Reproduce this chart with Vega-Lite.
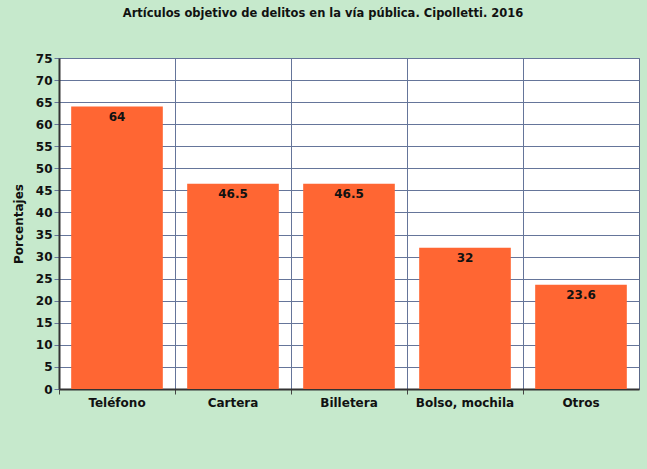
{
  "$schema": "https://vega.github.io/schema/vega-lite/v6.json",
  "autosize": "none",
  "width": 580,
  "height": 331,
  "padding": {"left": 59, "top": 58, "right": 8, "bottom": 80},
  "background": "#c6e9cc",
  "title": {
    "text": "Artículos objetivo de delitos en la vía pública. Cipolletti. 2016",
    "font": "DejaVu Sans",
    "fontSize": 11.5,
    "fontWeight": "bold",
    "color": "#111111",
    "anchor": "middle",
    "dx": -26,
    "offset": 33
  },
  "config": {
    "view": {"fill": "white", "stroke": "#5a6888", "strokeWidth": 1},
    "font": "DejaVu Sans"
  },
  "data": {
    "values": [
      {"articulo": "Teléfono", "pct": 64, "label": "64"},
      {"articulo": "Cartera", "pct": 46.5, "label": "46.5"},
      {"articulo": "Billetera", "pct": 46.5, "label": "46.5"},
      {"articulo": "Bolso, mochila", "pct": 32, "label": "32"},
      {"articulo": "Otros", "pct": 23.6, "label": "23.6"}
    ]
  },
  "encoding": {
    "x": {
      "field": "articulo",
      "type": "nominal",
      "sort": null,
      "scale": {"paddingInner": 0, "paddingOuter": 0},
      "axis": {
        "title": null,
        "labelAngle": 0,
        "labelFont": "DejaVu Sans",
        "labelFontSize": 12,
        "labelFontWeight": "bold",
        "labelColor": "#111111",
        "labelPadding": 3,
        "bandPosition": 0,
        "grid": true,
        "gridColor": "#65759a",
        "gridWidth": 1,
        "gridOpacity": 1,
        "tickColor": "#444444",
        "tickSize": 5,
        "domainColor": "#333333",
        "domainWidth": 2
      }
    },
    "y": {
      "field": "pct",
      "type": "quantitative",
      "scale": {"domain": [0, 75], "nice": false},
      "axis": {
        "title": "Porcentajes",
        "titleFont": "DejaVu Sans",
        "titleFontSize": 12,
        "titleFontWeight": "bold",
        "titleColor": "#111111",
        "titlePadding": 10,
        "values": [0, 5, 10, 15, 20, 25, 30, 35, 40, 45, 50, 55, 60, 65, 70, 75],
        "labelFont": "DejaVu Sans",
        "labelFontSize": 12,
        "labelFontWeight": "bold",
        "labelColor": "#111111",
        "labelPadding": 2,
        "grid": true,
        "gridColor": "#65759a",
        "gridWidth": 1,
        "gridOpacity": 1,
        "tickColor": "#65759a",
        "tickSize": 5,
        "domainColor": "#333333",
        "domainWidth": 2
      }
    }
  },
  "layer": [
    {
      "mark": {"type": "bar", "color": "#ff6633", "width": {"band": 0.79}}
    },
    {
      "mark": {
        "type": "text",
        "baseline": "top",
        "dy": 5,
        "font": "DejaVu Sans",
        "fontSize": 12,
        "fontWeight": "bold",
        "color": "#111111"
      },
      "encoding": {"text": {"field": "label"}}
    }
  ]
}
